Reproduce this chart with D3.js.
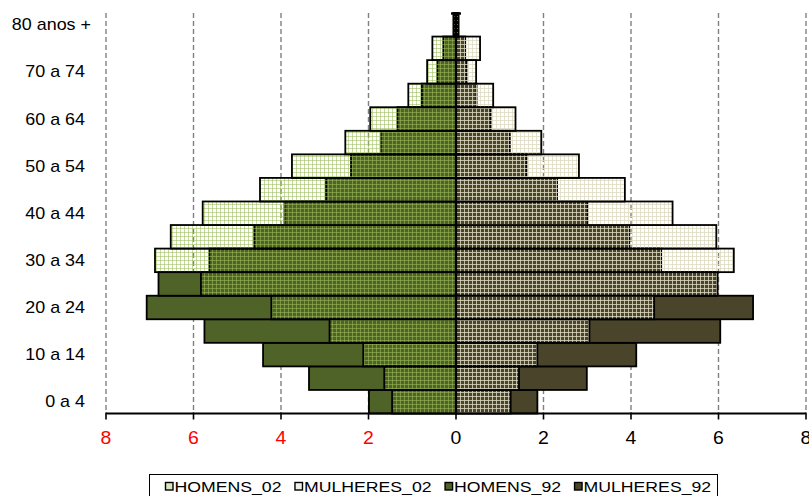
<!DOCTYPE html>
<html><head><meta charset="utf-8">
<script src="https://cdn.jsdelivr.net/npm/d3@7"></script>
<style>
html,body{margin:0;padding:0;background:#fff;}
svg{display:block;font-family:"Liberation Sans",Arial,sans-serif;}
</style></head>
<body><svg id="c" width="809" height="496"></svg>
<script>
const categories = ["0 a 4","5 a 9","10 a 14","15 a 19","20 a 24","25 a 29","30 a 34","35 a 39","40 a 44","45 a 49","50 a 54","55 a 59","60 a 64","65 a 69","70 a 74","75 a 79","80 anos +"];
const homens02   = [1.46,1.64,2.12,2.89,4.22,5.83,6.88,6.52,5.79,4.48,3.75,2.53,1.96,1.09,0.66,0.54,0.06];
const homens92   = [1.99,3.36,4.41,5.75,7.07,6.80,5.64,4.61,3.92,2.97,2.40,1.72,1.34,0.78,0.43,0.29,0.04];
const mulheres02 = [1.25,1.44,1.86,3.05,4.53,5.98,6.35,5.95,4.95,3.86,2.81,1.95,1.36,0.85,0.46,0.55,0.06];
const mulheres92 = [1.86,2.99,4.12,6.04,6.79,5.96,4.69,3.96,3.01,2.31,1.61,1.23,0.79,0.47,0.24,0.21,0.04];
const xTicks = [-8,-6,-4,-2,0,2,4,6,8];
const seriesNames = ["HOMENS_02","MULHERES_02","HOMENS_92","MULHERES_92"];

const svg = d3.select("#c");
const x = d3.scaleLinear().domain([-8,8]).range([106,806]);
const y = d3.scaleBand().domain(categories).range([413.5,13]).padding(0);

const defs = svg.append("defs");
function grid(id, color, op){
  const p = defs.append("pattern").attr("id",id).attr("patternUnits","userSpaceOnUse")
    .attr("width",4).attr("height",4);
  p.append("path").attr("d","M0 0.5H4M0.5 0V4").attr("stroke",color).attr("stroke-width",1)
    .attr("stroke-opacity",op).attr("fill","none");
}
grid("pH02","#9BBB59",0.55);
grid("pM02","#DDD9C3",0.8);
const fills = {HOMENS_02:"url(#pH02)",MULHERES_02:"url(#pM02)",HOMENS_92:"#4F6228",MULHERES_92:"#4A452A"};

// grid lines
svg.append("g").selectAll("line").data(xTicks.filter(d=>d!==0)).join("line")
  .attr("x1",d=>x(d)).attr("x2",d=>x(d)).attr("y1",13).attr("y2",413)
  .attr("stroke","#808080").attr("stroke-width",1.4).attr("stroke-dasharray","5,3");

function bars(vals, sign, fill){
  svg.append("g").selectAll("rect").data(categories.map((c,i)=>({c,v:vals[i]}))).join("rect")
    .attr("x",d=> sign<0 ? x(-d.v) : x(0))
    .attr("width",d=> Math.abs(x(d.v)-x(0)))
    .attr("y",d=>y(d.c)).attr("height",y.bandwidth())
    .attr("fill",fill).attr("stroke","#000").attr("stroke-width",1.8);
}
bars(homens92,-1,fills.HOMENS_92);
bars(homens02,-1,fills.HOMENS_02);
bars(mulheres92,1,fills.MULHERES_92);
bars(mulheres02,1,fills.MULHERES_02);

// vertical axis at zero
const yAx = svg.append("g");
yAx.append("line").attr("x1",x(0)).attr("x2",x(0)).attr("y1",13).attr("y2",413.5)
  .attr("stroke","#000").attr("stroke-width",2.2);
yAx.append("line").attr("x1",x(0)-5).attr("x2",x(0)+5).attr("y1",13.5).attr("y2",13.5)
  .attr("stroke","#000").attr("stroke-width",2.4);

// category labels (every other)
const labelled = categories.filter((c,i)=>i%2===0);
svg.append("g").selectAll("text").data(labelled).join("text")
  .attr("transform",(d,i)=>`translate(${i===labelled.length-1?91:85},${y(d)+y.bandwidth()/2+5.5}) scale(1.12,1)`)
  .attr("text-anchor","end").attr("font-size",16).attr("fill","#000").text(d=>d);

// x axis
const xg = svg.append("g").attr("transform","translate(0,413.5)");
xg.append("line").attr("x1",x(-8)).attr("x2",x(8)).attr("stroke","#000").attr("stroke-width",2.2);
xg.selectAll("line.t").data(xTicks).join("line").attr("class","t")
  .attr("x1",d=>x(d)).attr("x2",d=>x(d)).attr("y1",-1).attr("y2",6)
  .attr("stroke","#000").attr("stroke-width",1.6);
xg.selectAll("text").data(xTicks).join("text")
  .attr("transform",d=>`translate(${x(d)},30.5) scale(1.08,1)`)
  .attr("text-anchor","middle").attr("font-size",18)
  .attr("fill",d=>d<0?"#ff0000":"#000").text(d=>Math.abs(d));

// legend
const lg = svg.append("g");
lg.append("rect").attr("x",149.5).attr("y",474.5).attr("width",568).attr("height",30)
  .attr("fill","#fff").attr("stroke","#000").attr("stroke-width",1);
let cx = 165;
const LS = 1.14;
seriesNames.forEach(n=>{
  lg.append("rect").attr("x",cx+0.5).attr("y",482.5).attr("width",7.5).attr("height",7.5)
    .attr("fill", n.endsWith("02") ? (n[0]==="H"?"#d9e6bf":"#f1efe6") : fills[n])
    .attr("stroke","#000").attr("stroke-width",1.4);
  const t = lg.append("text").attr("transform",`translate(${cx+9.5},491.5) scale(${LS},1)`)
    .attr("font-size",15.5).attr("fill","#000").text(n);
  const w = t.node().getComputedTextLength()*LS;
  cx += 9.5 + w + 13;
});
</script></body></html>
